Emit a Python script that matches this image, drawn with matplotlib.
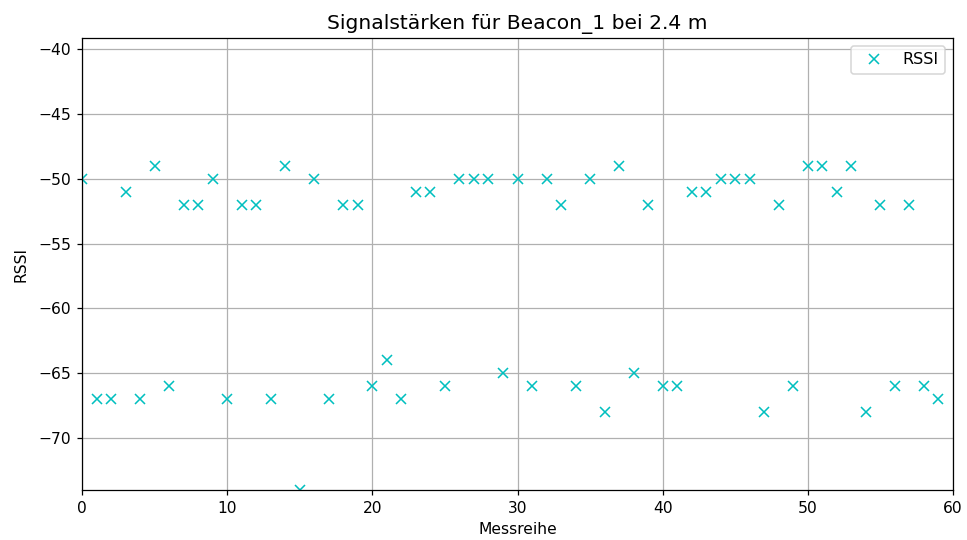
import matplotlib
matplotlib.use("Agg")
import matplotlib.pyplot as plt

messreihe = list(range(60))
rssi = [-50, -67, -67, -51, -67, -49, -66, -52, -52, -50,
        -67, -52, -52, -67, -49, -74, -50, -67, -52, -52,
        -66, -64, -67, -51, -51, -66, -50, -50, -50, -65,
        -50, -66, -50, -52, -66, -50, -68, -49, -65, -52,
        -66, -66, -51, -51, -50, -50, -50, -68, -52, -66,
        -49, -49, -51, -49, -68, -52, -66, -52, -66, -67]

DPI = 112
fig = plt.figure(figsize=(967/DPI, 540/DPI), dpi=DPI)
ax = fig.add_axes([82/967, 1-490/540, (953-82)/967, (490-38)/540])
ax.plot(messreihe, rssi, 'cx', markersize=6.5, label='RSSI')
ax.set_xlim(0, 60)
ax.set_ylim(-74, -39.15)
ax.grid(True)
ax.set_xlabel('Messreihe')
ax.set_ylabel('RSSI', labelpad=6)
ax.set_title('Signalstärken für Beacon_1 bei 2.4 m', fontsize=13)
ax.legend(loc='upper right', fontsize=10.3)
fig.savefig('out.png', dpi=DPI)
